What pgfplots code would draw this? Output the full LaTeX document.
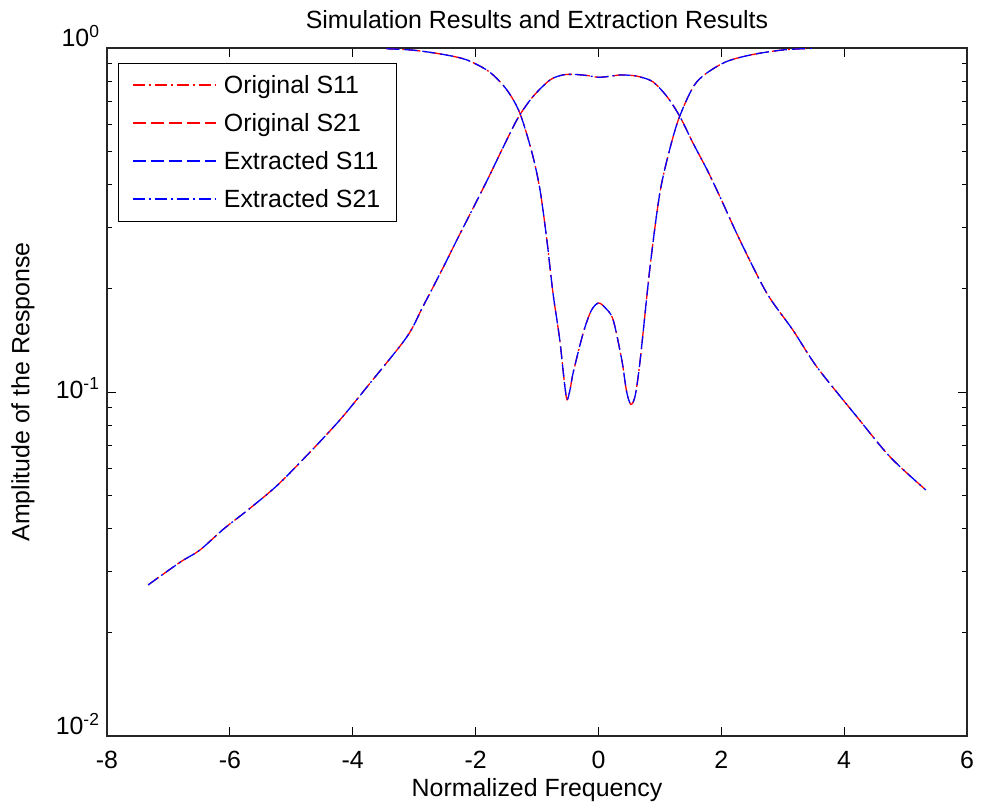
\documentclass[border=0pt]{standalone}
\usepackage{pgfplots}
\usepackage{pgfplotstable}
\pgfplotsset{compat=1.18}
\usepackage{fontspec}
\setmainfont{Liberation Sans}

\pgfplotstableread{
x y
-7.33 0.0275
-6.81 0.0320
-6.49 0.0347
-6.10 0.0400
-5.70 0.0455
-5.23 0.0535
-4.74 0.0656
-4.21 0.0829
-3.72 0.1060
-3.12 0.1445
-2.86 0.1767
-2.55 0.2260
-2.29 0.2800
-2.14 0.3160
-1.81 0.4130
-1.55 0.5150
-1.31 0.6260
-1.07 0.7210
-0.79 0.8070
-0.58 0.8350
-0.40 0.8380
-0.19 0.8320
0.00 0.8220
0.20 0.8280
0.35 0.8350
0.55 0.8320
0.68 0.8240
0.89 0.7970
1.12 0.7210
1.33 0.6300
1.54 0.5290
1.77 0.4420
1.98 0.3690
2.30 0.2770
2.74 0.1940
3.17 0.1510
3.56 0.1180
4.21 0.0846
4.75 0.0647
5.33 0.0519
}\stwo

\pgfplotstableread{
x y
-3.45 0.995
-3.00 0.985
-2.53 0.958
-2.14 0.923
-1.77 0.851
-1.49 0.755
-1.28 0.647
-1.08 0.495
-0.95 0.386
-0.84 0.277
-0.74 0.194
-0.63 0.142
-0.55 0.105
-0.51 0.095
-0.46 0.102
-0.41 0.114
-0.25 0.148
-0.12 0.172
0.00 0.1815
0.12 0.175
0.24 0.162
0.38 0.124
0.46 0.100
0.53 0.092
0.60 0.098
0.68 0.124
0.84 0.231
1.00 0.379
1.17 0.515
1.33 0.638
1.60 0.797
2.03 0.904
2.47 0.954
3.00 0.987
3.48 0.998
}\sone

\tikzset{
  dashdotM/.style={dash pattern=on 12bp off 4bp on 2bp off 4bp},
  dashedM/.style={dash pattern=on 13bp off 5bp},
}
\newcommand\legline[2]{% #1 colour, #2 dash list
  \pgfsetstrokecolor{#1}\pgfsetlinewidth{1.4bp}\pgfsetdash{#2}{0bp}%
  \pgfpathmoveto{\pgfpoint{0bp}{0bp}}\pgfpathlineto{\pgfpoint{83bp}{0bp}}\pgfusepath{stroke}%
  \pgfpathrectangle{\pgfpoint{0bp}{0bp}}{\pgfpoint{89bp}{0.1bp}}\pgfusepath{}}

\begin{document}
\begin{tikzpicture}
\begin{semilogyaxis}[
  scale only axis, width=860bp, height=688bp,
  xmin=-8, xmax=6, ymin=0.01, ymax=1,
  xtick={-8,-6,-4,-2,0,2,4,6},
  xticklabels={-8,-6,-4,-2,0,2,4,6},
  ytick={0.01,0.1,1},
  yticklabels={\raisebox{8bp}[\height][\depth]{10\textsuperscript{-2}},10\textsuperscript{-1},\raisebox{8bp}[\height][\depth]{10\textsuperscript{0}}},
  minor ytick={0.02,0.03,0.04,0.05,0.06,0.07,0.08,0.09,0.2,0.3,0.4,0.5,0.6,0.7,0.8,0.9},
  tick align=inside, major tick length=9bp, minor tick length=5bp,
  every tick/.style={black, line width=1bp},
  axis line style={line width=1.2bp, black!85},
  tick label style={font=\fontsize{25}{30}\selectfont},
  xticklabel style={anchor=center, yshift=-24bp},
  yticklabel style={anchor=east, xshift=-4bp, yshift=4bp},
  label style={font=\fontsize{25}{30}\selectfont},
  title style={font=\fontsize{25}{30}\selectfont},
  title={Simulation Results and Extraction Results},
  title style={at={(axis description cs:0.5,1.032)}, anchor=center},
  xlabel={Normalized Frequency},
  xlabel style={at={(axis description cs:0.5,-0.0785)}, anchor=center},
  ylabel={Amplitude of the Response},
  ylabel style={at={(axis description cs:-0.0977,0.5)}, anchor=center},
  legend cell align=left,
  legend style={at={(axis description cs:0,1)}, xshift=11bp, yshift=-15bp,
    anchor=north west, font=\fontsize{25}{30}\selectfont,
    row sep=14.5bp, inner xsep=14bp, inner ysep=10bp},
]
\addplot[red, line width=1.3bp, dashdotM, smooth, forget plot] table[x=x,y=y] {\sone};
\addplot[red, line width=1.3bp, dashedM, smooth, forget plot] table[x=x,y=y] {\stwo};
\addplot[blue, line width=1.3bp, dashedM, smooth, forget plot] table[x=x,y=y] {\sone};
\addplot[blue, line width=1.3bp, dashdotM, smooth, forget plot] table[x=x,y=y] {\stwo};
\addlegendimage{legend image code/.code={\legline{red}{{12bp}{4bp}{2bp}{4bp}}}}
\addlegendentry{Original S11}
\addlegendimage{legend image code/.code={\legline{red}{{13bp}{5bp}}}}
\addlegendentry{Original S21}
\addlegendimage{legend image code/.code={\legline{blue}{{13bp}{5bp}}}}
\addlegendentry{Extracted S11}
\addlegendimage{legend image code/.code={\legline{blue}{{12bp}{4bp}{2bp}{4bp}}}}
\addlegendentry{Extracted S21}
\end{semilogyaxis}
\pgfresetboundingbox
\path ([xshift=-107bp,yshift=-72bp]current axis.south west) rectangle ([xshift=14bp,yshift=48bp]current axis.north east);
\end{tikzpicture}
\end{document}
